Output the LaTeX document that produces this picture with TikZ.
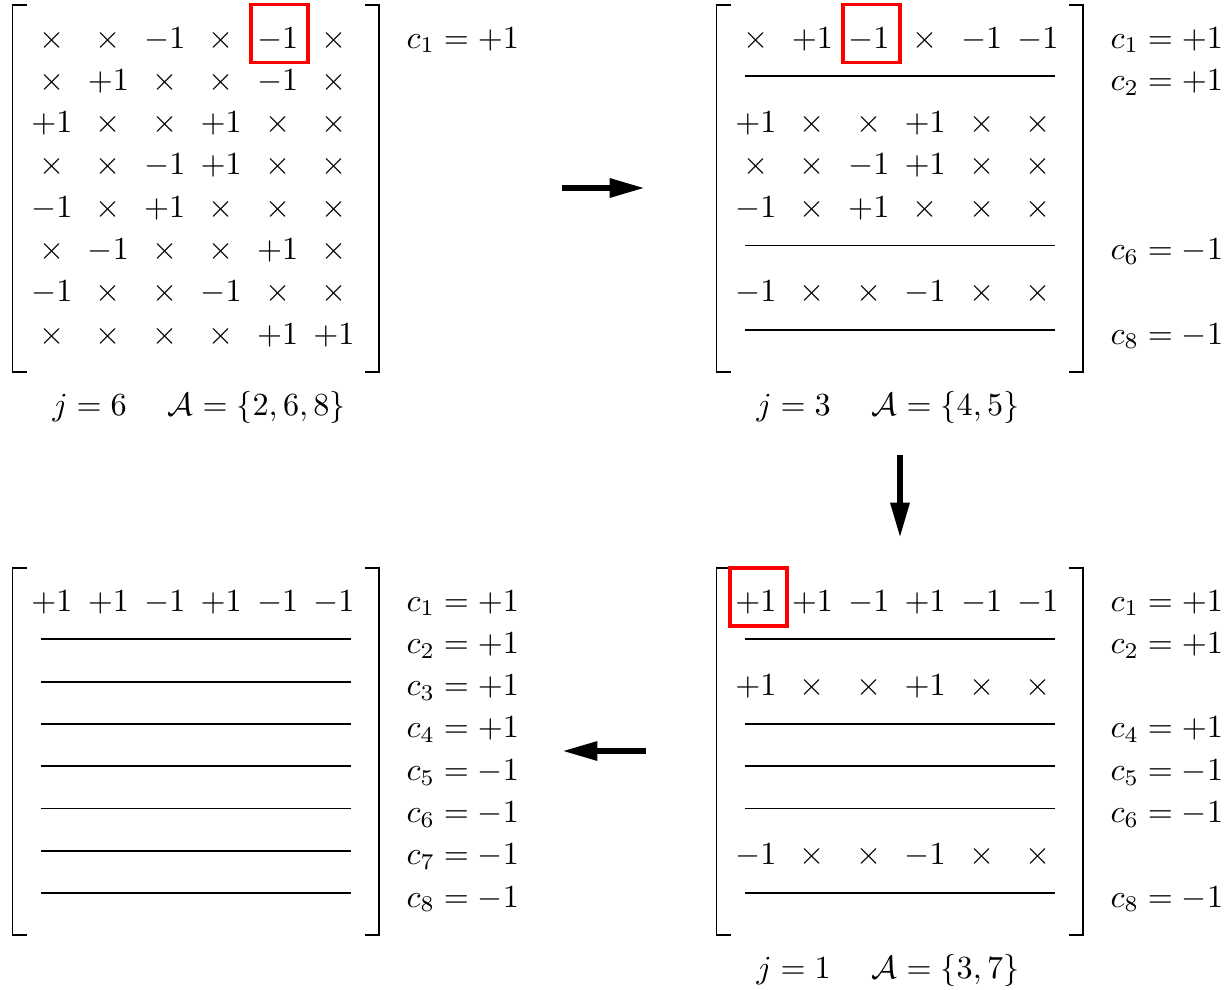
\documentclass[tikz,border=0pt]{standalone}
\usetikzlibrary{arrows.meta}
\begin{document}
\begin{tikzpicture}[x=0.3106pt,y=-0.3106pt,
  entry/.style={inner sep=0pt,anchor=base},
  bracket/.style={line width=0.45pt},
  rowrule/.style={line width=0.6pt},
  pick/.style={draw=red,line width=1pt},
  flow/.style={line width=1.9pt,-{Triangle[length=11pt,width=5.6pt]}},
  clabel/.style={inner sep=0pt,anchor=base west},
  caption/.style={inner sep=0pt,anchor=base west},
]
\useasboundingbox (0,0) rectangle (1232,989);

% column pitch and row pitch (in picture units)
\def\cx{56.4}
\def\ry{42.3}

% ---------- brackets for the four matrices ----------
\foreach \nm/\ox/\oy in {A/0/0,B/704/0,C/704/563,D/0/563}{
  \draw[bracket] (\ox+27,\oy+5) -- (\ox+12.5,\oy+5) -- (\ox+12.5,\oy+372) -- (\ox+27,\oy+372);
  \draw[bracket] (\ox+365,\oy+5) -- (\ox+379,\oy+5) -- (\ox+379,\oy+372) -- (\ox+365,\oy+372);
}

% ---------- matrix A (top left) ----------
\foreach \r/\row in {
  1/{\times,\times,-1,\times,-1,\times},
  2/{\times,+1,\times,\times,-1,\times},
  3/{+1,\times,\times,+1,\times,\times},
  4/{\times,\times,-1,+1,\times,\times},
  5/{-1,\times,+1,\times,\times,\times},
  6/{\times,-1,\times,\times,+1,\times},
  7/{-1,\times,\times,-1,\times,\times},
  8/{\times,\times,\times,\times,+1,+1}}{
  \foreach \v [count=\c] in \row
    \node[entry] (A-\r-\c) at ({52+\cx*(\c-1)},{48+\ry*(\r-1)}) {$\v$};
}
\node[clabel] (A-c1) at (406,48) {$c_1=+1$};
\node[caption] (A-cap) at (52,415) {$j=6\quad\;\mathcal{A}=\{2,6,8\}$};
\draw[pick] (251,4.5) rectangle (308,62.5);

% ---------- matrix B (top right) ----------
\foreach \r/\row in {
  1/{\times,+1,-1,\times,-1,-1},
  3/{+1,\times,\times,+1,\times,\times},
  4/{\times,\times,-1,+1,\times,\times},
  5/{-1,\times,+1,\times,\times,\times},
  7/{-1,\times,\times,-1,\times,\times}}{
  \foreach \v [count=\c] in \row
    \node[entry] (B-\r-\c) at ({704+52+\cx*(\c-1)},{48+\ry*(\r-1)}) {$\v$};
}
\foreach \r in {2,6,8}
  \draw[rowrule] (704+41,{34+\ry*(\r-1)}) -- (704+351,{34+\ry*(\r-1)});
\foreach \k in {1,2,6,8}
  \node[clabel] (B-c\k) at (704+406,{48+\ry*(\k-1)}) {$c_{\k}=\ifnum\k<3 +\else -\fi1$};
\node[caption] (B-cap) at (704+52,415) {$j=3\quad\;\mathcal{A}=\{4,5\}$};
\draw[pick] (843,4.5) rectangle (900,62.5);

% ---------- matrix C (bottom right) ----------
\foreach \r/\row in {
  1/{+1,+1,-1,+1,-1,-1},
  3/{+1,\times,\times,+1,\times,\times},
  7/{-1,\times,\times,-1,\times,\times}}{
  \foreach \v [count=\c] in \row
    \node[entry] (C-\r-\c) at ({704+52+\cx*(\c-1)},{563+48+\ry*(\r-1)}) {$\v$};
}
\foreach \r in {2,4,5,6,8}
  \draw[rowrule] (704+41,{563+34+\ry*(\r-1)}) -- (704+351,{563+34+\ry*(\r-1)});
\foreach \k in {1,2,4,5,6,8}
  \node[clabel] (C-c\k) at (704+406,{563+48+\ry*(\k-1)}) {$c_{\k}=\ifnum\k<5 +\else -\fi1$};
\node[caption] (C-cap) at (704+52,978) {$j=1\quad\;\mathcal{A}=\{3,7\}$};
\draw[pick] (730,568) rectangle (787,626);

% ---------- matrix D (bottom left) ----------
\foreach \v [count=\c] in {+1,+1,-1,+1,-1,-1}
  \node[entry] (D-1-\c) at ({52+\cx*(\c-1)},{563+48}) {$\v$};
\foreach \r in {2,...,8}
  \draw[rowrule] (41,{563+34+\ry*(\r-1)}) -- (351,{563+34+\ry*(\r-1)});
\foreach \k in {1,...,8}
  \node[clabel] (D-c\k) at (406,{563+48+\ry*(\k-1)}) {$c_{\k}=\ifnum\k<5 +\else -\fi1$};

% ---------- arrows between the stages ----------
\coordinate (AB-s) at (562,188);
\coordinate (AB-e) at (645,188);
\coordinate (BC-s) at (900,455);
\coordinate (BC-e) at (900,538);
\coordinate (CD-s) at (646,751);
\coordinate (CD-e) at (562,751);
\draw[flow] (AB-s) -- (AB-e);
\draw[flow] (BC-s) -- (BC-e);
\draw[flow] (CD-s) -- (CD-e);
\end{tikzpicture}
\end{document}
